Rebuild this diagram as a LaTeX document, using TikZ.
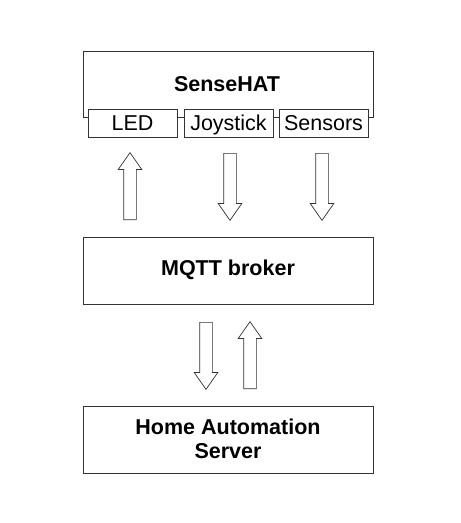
\documentclass[tikz,border=0pt]{standalone}
\usepackage{fontspec}
\setmainfont{Liberation Sans}
\usetikzlibrary{positioning,shapes.arrows}

\begin{document}
\begin{tikzpicture}[x=1pt,y=-1pt,
  box/.style={draw=black!80, line width=0.8pt, fill=white},
  part/.style={draw=black!80, line width=0.8pt, fill=white, minimum width=89pt, minimum height=28pt, inner sep=0pt, text height=15.4pt, text depth=0pt, font=\fontsize{21.5}{24}\selectfont},
  title/.style={font=\bfseries\fontsize{21.5}{24}\selectfont, align=center},
  blockarrow/.style={single arrow, draw=black!80, line width=0.7pt, fill=white, inner sep=6pt, minimum height=67pt, single arrow head extend=5.5pt, single arrow tip angle=70}]
  \useasboundingbox (0,0) rectangle (461,523);

  % SenseHAT with its three parts
  \draw[box] (83,51) rectangle (373,117);
  \node[title] (hat) at (227,84) {SenseHAT};
  \node[part] (led) at (132.5,123) {LED};
  \node[part] (joy) at (228.5,123) {Joystick};
  \node[part] (sen) at (323.5,123) {Sensors};

  % MQTT broker
  \draw[box] (83,237) rectangle (373,304);
  \node[title] (mqtt) at (228,270) {MQTT broker};

  % Home Automation Server
  \draw[box] (83,406) rectangle (373,473);
  \node[title] (has) at (228,439) {Home Automation\\Server};

  % arrows: SenseHAT <-> broker
  \node[blockarrow, shape border rotate=90,  anchor=tail] (a1) at (130,220) {};
  \node[blockarrow, shape border rotate=270, anchor=tail] (a2) at (230,153) {};
  \node[blockarrow, shape border rotate=270, anchor=tail] (a3) at (322,153) {};

  % arrows: broker <-> server
  \node[blockarrow, shape border rotate=270, anchor=tail] (a4) at (206,322) {};
  \node[blockarrow, shape border rotate=90,  anchor=tail] (a5) at (250,389) {};
\end{tikzpicture}
\end{document}
